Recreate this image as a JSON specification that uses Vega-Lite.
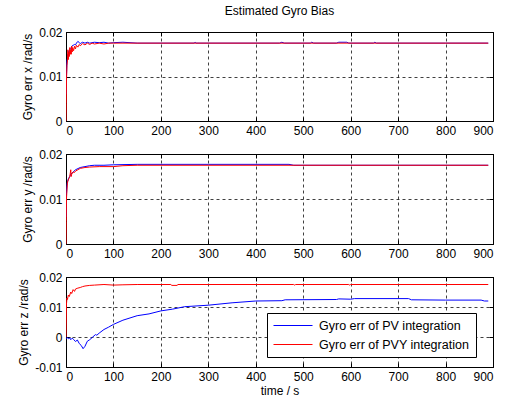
{
  "$schema": "https://vega.github.io/schema/vega-lite/v6.json",
  "padding": {"left": 17, "top": 4, "right": 10, "bottom": 4},
  "spacing": 10,
  "background": "white",
  "config": {
    "font": "Liberation Sans",
    "view": {"stroke": "black", "strokeWidth": 1},
    "axis": {
      "domain": false,
      "tickColor": "black",
      "labelColor": "black",
      "titleColor": "black",
      "labelFont": "Liberation Sans",
      "titleFont": "Liberation Sans",
      "labelFontSize": 12,
      "titleFontSize": 12,
      "titleFontWeight": "normal",
      "gridColor": "black",
      "gridDash": [3, 3],
      "gridOpacity": 0.75,
      "tickSize": -4,
      "labelPadding": 8
    },
    "line": {"strokeWidth": 1}
  },
  "resolve": {"legend": {"color": "independent"}},
  "datasets": {
    "px": [
      {"t": 0.5, "v": 0.006, "s": "Gyro err of PV integration"},
      {"t": 1, "v": 0.010, "s": "Gyro err of PV integration"},
      {"t": 2, "v": 0.0135, "s": "Gyro err of PV integration"},
      {"t": 3, "v": 0.014, "s": "Gyro err of PV integration"},
      {"t": 4, "v": 0.015, "s": "Gyro err of PV integration"},
      {"t": 5, "v": 0.0145, "s": "Gyro err of PV integration"},
      {"t": 6, "v": 0.0158, "s": "Gyro err of PV integration"},
      {"t": 8, "v": 0.016, "s": "Gyro err of PV integration"},
      {"t": 10, "v": 0.0162, "s": "Gyro err of PV integration"},
      {"t": 12, "v": 0.0168, "s": "Gyro err of PV integration"},
      {"t": 15, "v": 0.017, "s": "Gyro err of PV integration"},
      {"t": 18, "v": 0.0172, "s": "Gyro err of PV integration"},
      {"t": 20, "v": 0.0171, "s": "Gyro err of PV integration"},
      {"t": 22, "v": 0.0175, "s": "Gyro err of PV integration"},
      {"t": 25, "v": 0.0179, "s": "Gyro err of PV integration"},
      {"t": 28, "v": 0.0176, "s": "Gyro err of PV integration"},
      {"t": 30, "v": 0.0174, "s": "Gyro err of PV integration"},
      {"t": 35, "v": 0.0177, "s": "Gyro err of PV integration"},
      {"t": 40, "v": 0.0175, "s": "Gyro err of PV integration"},
      {"t": 45, "v": 0.0177, "s": "Gyro err of PV integration"},
      {"t": 50, "v": 0.0175, "s": "Gyro err of PV integration"},
      {"t": 60, "v": 0.0177, "s": "Gyro err of PV integration"},
      {"t": 70, "v": 0.0176, "s": "Gyro err of PV integration"},
      {"t": 80, "v": 0.0177, "s": "Gyro err of PV integration"},
      {"t": 90, "v": 0.0175, "s": "Gyro err of PV integration"},
      {"t": 100, "v": 0.0176, "s": "Gyro err of PV integration"},
      {"t": 120, "v": 0.0177, "s": "Gyro err of PV integration"},
      {"t": 150, "v": 0.0175, "s": "Gyro err of PV integration"},
      {"t": 270, "v": 0.0175, "s": "Gyro err of PV integration"},
      {"t": 272, "v": 0.0177, "s": "Gyro err of PV integration"},
      {"t": 274, "v": 0.0175, "s": "Gyro err of PV integration"},
      {"t": 450, "v": 0.0175, "s": "Gyro err of PV integration"},
      {"t": 455, "v": 0.0177, "s": "Gyro err of PV integration"},
      {"t": 460, "v": 0.0175, "s": "Gyro err of PV integration"},
      {"t": 515, "v": 0.0175, "s": "Gyro err of PV integration"},
      {"t": 518, "v": 0.0177, "s": "Gyro err of PV integration"},
      {"t": 522, "v": 0.0175, "s": "Gyro err of PV integration"},
      {"t": 570, "v": 0.0175, "s": "Gyro err of PV integration"},
      {"t": 575, "v": 0.0177, "s": "Gyro err of PV integration"},
      {"t": 592, "v": 0.0177, "s": "Gyro err of PV integration"},
      {"t": 596, "v": 0.0175, "s": "Gyro err of PV integration"},
      {"t": 648, "v": 0.0175, "s": "Gyro err of PV integration"},
      {"t": 651, "v": 0.0177, "s": "Gyro err of PV integration"},
      {"t": 654, "v": 0.0175, "s": "Gyro err of PV integration"},
      {"t": 800, "v": 0.0175, "s": "Gyro err of PV integration"},
      {"t": 890, "v": 0.0175, "s": "Gyro err of PV integration"},
      {"t": 0, "v": 0, "s": "Gyro err of PVY integration"},
      {"t": 0.5, "v": 0.004, "s": "Gyro err of PVY integration"},
      {"t": 1, "v": 0.009, "s": "Gyro err of PVY integration"},
      {"t": 2, "v": 0.0125, "s": "Gyro err of PVY integration"},
      {"t": 3, "v": 0.0135, "s": "Gyro err of PVY integration"},
      {"t": 4, "v": 0.016, "s": "Gyro err of PVY integration"},
      {"t": 5, "v": 0.0138, "s": "Gyro err of PVY integration"},
      {"t": 6, "v": 0.0155, "s": "Gyro err of PVY integration"},
      {"t": 7, "v": 0.0145, "s": "Gyro err of PVY integration"},
      {"t": 8, "v": 0.0165, "s": "Gyro err of PVY integration"},
      {"t": 9, "v": 0.015, "s": "Gyro err of PVY integration"},
      {"t": 10, "v": 0.016, "s": "Gyro err of PVY integration"},
      {"t": 11, "v": 0.015, "s": "Gyro err of PVY integration"},
      {"t": 12, "v": 0.0168, "s": "Gyro err of PVY integration"},
      {"t": 13, "v": 0.0155, "s": "Gyro err of PVY integration"},
      {"t": 14, "v": 0.0165, "s": "Gyro err of PVY integration"},
      {"t": 16, "v": 0.0158, "s": "Gyro err of PVY integration"},
      {"t": 18, "v": 0.0168, "s": "Gyro err of PVY integration"},
      {"t": 20, "v": 0.0162, "s": "Gyro err of PVY integration"},
      {"t": 22, "v": 0.017, "s": "Gyro err of PVY integration"},
      {"t": 25, "v": 0.0166, "s": "Gyro err of PVY integration"},
      {"t": 28, "v": 0.0172, "s": "Gyro err of PVY integration"},
      {"t": 30, "v": 0.0169, "s": "Gyro err of PVY integration"},
      {"t": 35, "v": 0.0174, "s": "Gyro err of PVY integration"},
      {"t": 40, "v": 0.0171, "s": "Gyro err of PVY integration"},
      {"t": 45, "v": 0.0175, "s": "Gyro err of PVY integration"},
      {"t": 50, "v": 0.0172, "s": "Gyro err of PVY integration"},
      {"t": 55, "v": 0.0175, "s": "Gyro err of PVY integration"},
      {"t": 60, "v": 0.0173, "s": "Gyro err of PVY integration"},
      {"t": 70, "v": 0.0175, "s": "Gyro err of PVY integration"},
      {"t": 80, "v": 0.0173, "s": "Gyro err of PVY integration"},
      {"t": 90, "v": 0.0175, "s": "Gyro err of PVY integration"},
      {"t": 100, "v": 0.0175, "s": "Gyro err of PVY integration"},
      {"t": 200, "v": 0.0175, "s": "Gyro err of PVY integration"},
      {"t": 890, "v": 0.0175, "s": "Gyro err of PVY integration"}
    ],
    "py": [
      {"t": 0.5, "v": 0.006, "s": "Gyro err of PV integration"},
      {"t": 1, "v": 0.011, "s": "Gyro err of PV integration"},
      {"t": 2, "v": 0.013, "s": "Gyro err of PV integration"},
      {"t": 3, "v": 0.0138, "s": "Gyro err of PV integration"},
      {"t": 5, "v": 0.0145, "s": "Gyro err of PV integration"},
      {"t": 8, "v": 0.015, "s": "Gyro err of PV integration"},
      {"t": 10, "v": 0.0155, "s": "Gyro err of PV integration"},
      {"t": 15, "v": 0.016, "s": "Gyro err of PV integration"},
      {"t": 20, "v": 0.0165, "s": "Gyro err of PV integration"},
      {"t": 30, "v": 0.017, "s": "Gyro err of PV integration"},
      {"t": 40, "v": 0.0172, "s": "Gyro err of PV integration"},
      {"t": 50, "v": 0.0174, "s": "Gyro err of PV integration"},
      {"t": 60, "v": 0.0175, "s": "Gyro err of PV integration"},
      {"t": 80, "v": 0.0175, "s": "Gyro err of PV integration"},
      {"t": 100, "v": 0.0176, "s": "Gyro err of PV integration"},
      {"t": 150, "v": 0.0177, "s": "Gyro err of PV integration"},
      {"t": 300, "v": 0.0177, "s": "Gyro err of PV integration"},
      {"t": 470, "v": 0.0177, "s": "Gyro err of PV integration"},
      {"t": 480, "v": 0.0175, "s": "Gyro err of PV integration"},
      {"t": 890, "v": 0.0175, "s": "Gyro err of PV integration"},
      {"t": 0, "v": 0, "s": "Gyro err of PVY integration"},
      {"t": 0.5, "v": 0.005, "s": "Gyro err of PVY integration"},
      {"t": 1, "v": 0.01, "s": "Gyro err of PVY integration"},
      {"t": 2, "v": 0.012, "s": "Gyro err of PVY integration"},
      {"t": 3, "v": 0.0135, "s": "Gyro err of PVY integration"},
      {"t": 4, "v": 0.014, "s": "Gyro err of PVY integration"},
      {"t": 6, "v": 0.0145, "s": "Gyro err of PVY integration"},
      {"t": 8, "v": 0.015, "s": "Gyro err of PVY integration"},
      {"t": 10, "v": 0.0165, "s": "Gyro err of PVY integration"},
      {"t": 11, "v": 0.015, "s": "Gyro err of PVY integration"},
      {"t": 12, "v": 0.0155, "s": "Gyro err of PVY integration"},
      {"t": 15, "v": 0.016, "s": "Gyro err of PVY integration"},
      {"t": 18, "v": 0.0159, "s": "Gyro err of PVY integration"},
      {"t": 20, "v": 0.0162, "s": "Gyro err of PVY integration"},
      {"t": 25, "v": 0.0165, "s": "Gyro err of PVY integration"},
      {"t": 30, "v": 0.0168, "s": "Gyro err of PVY integration"},
      {"t": 40, "v": 0.017, "s": "Gyro err of PVY integration"},
      {"t": 50, "v": 0.0171, "s": "Gyro err of PVY integration"},
      {"t": 70, "v": 0.0172, "s": "Gyro err of PVY integration"},
      {"t": 100, "v": 0.0172, "s": "Gyro err of PVY integration"},
      {"t": 120, "v": 0.0174, "s": "Gyro err of PVY integration"},
      {"t": 150, "v": 0.0175, "s": "Gyro err of PVY integration"},
      {"t": 890, "v": 0.0175, "s": "Gyro err of PVY integration"}
    ],
    "pz": [
      {"t": 0, "v": -0.0005, "s": "Gyro err of PV integration"},
      {"t": 3, "v": -0.0002, "s": "Gyro err of PV integration"},
      {"t": 5, "v": -0.0006, "s": "Gyro err of PV integration"},
      {"t": 8, "v": -0.0003, "s": "Gyro err of PV integration"},
      {"t": 10, "v": -0.0009, "s": "Gyro err of PV integration"},
      {"t": 13, "v": -0.0004, "s": "Gyro err of PV integration"},
      {"t": 16, "v": -0.0008, "s": "Gyro err of PV integration"},
      {"t": 20, "v": -0.0015, "s": "Gyro err of PV integration"},
      {"t": 24, "v": -0.001, "s": "Gyro err of PV integration"},
      {"t": 28, "v": -0.0022, "s": "Gyro err of PV integration"},
      {"t": 32, "v": -0.0028, "s": "Gyro err of PV integration"},
      {"t": 36, "v": -0.0039, "s": "Gyro err of PV integration"},
      {"t": 40, "v": -0.0031, "s": "Gyro err of PV integration"},
      {"t": 45, "v": -0.0014, "s": "Gyro err of PV integration"},
      {"t": 50, "v": -0.0009, "s": "Gyro err of PV integration"},
      {"t": 55, "v": -0.0002, "s": "Gyro err of PV integration"},
      {"t": 62, "v": 0.0008, "s": "Gyro err of PV integration"},
      {"t": 65, "v": 0.0006, "s": "Gyro err of PV integration"},
      {"t": 70, "v": 0.0013, "s": "Gyro err of PV integration"},
      {"t": 80, "v": 0.0025, "s": "Gyro err of PV integration"},
      {"t": 90, "v": 0.0033, "s": "Gyro err of PV integration"},
      {"t": 100, "v": 0.0042, "s": "Gyro err of PV integration"},
      {"t": 120, "v": 0.0056, "s": "Gyro err of PV integration"},
      {"t": 150, "v": 0.0071, "s": "Gyro err of PV integration"},
      {"t": 175, "v": 0.0077, "s": "Gyro err of PV integration"},
      {"t": 200, "v": 0.0087, "s": "Gyro err of PV integration"},
      {"t": 225, "v": 0.0093, "s": "Gyro err of PV integration"},
      {"t": 250, "v": 0.0101, "s": "Gyro err of PV integration"},
      {"t": 300, "v": 0.0106, "s": "Gyro err of PV integration"},
      {"t": 350, "v": 0.0114, "s": "Gyro err of PV integration"},
      {"t": 400, "v": 0.012, "s": "Gyro err of PV integration"},
      {"t": 455, "v": 0.0121, "s": "Gyro err of PV integration"},
      {"t": 462, "v": 0.0124, "s": "Gyro err of PV integration"},
      {"t": 570, "v": 0.0125, "s": "Gyro err of PV integration"},
      {"t": 575, "v": 0.0127, "s": "Gyro err of PV integration"},
      {"t": 600, "v": 0.0126, "s": "Gyro err of PV integration"},
      {"t": 608, "v": 0.0128, "s": "Gyro err of PV integration"},
      {"t": 722, "v": 0.0128, "s": "Gyro err of PV integration"},
      {"t": 728, "v": 0.0124, "s": "Gyro err of PV integration"},
      {"t": 800, "v": 0.0123, "s": "Gyro err of PV integration"},
      {"t": 875, "v": 0.0123, "s": "Gyro err of PV integration"},
      {"t": 882, "v": 0.012, "s": "Gyro err of PV integration"},
      {"t": 890, "v": 0.012, "s": "Gyro err of PV integration"},
      {"t": 0, "v": 0, "s": "Gyro err of PVY integration"},
      {"t": 0.5, "v": 0.005, "s": "Gyro err of PVY integration"},
      {"t": 1, "v": 0.011, "s": "Gyro err of PVY integration"},
      {"t": 2, "v": 0.013, "s": "Gyro err of PVY integration"},
      {"t": 3, "v": 0.0125, "s": "Gyro err of PVY integration"},
      {"t": 5, "v": 0.014, "s": "Gyro err of PVY integration"},
      {"t": 7, "v": 0.0135, "s": "Gyro err of PVY integration"},
      {"t": 10, "v": 0.015, "s": "Gyro err of PVY integration"},
      {"t": 12, "v": 0.0145, "s": "Gyro err of PVY integration"},
      {"t": 15, "v": 0.0158, "s": "Gyro err of PVY integration"},
      {"t": 18, "v": 0.0152, "s": "Gyro err of PVY integration"},
      {"t": 20, "v": 0.016, "s": "Gyro err of PVY integration"},
      {"t": 25, "v": 0.0163, "s": "Gyro err of PVY integration"},
      {"t": 30, "v": 0.0165, "s": "Gyro err of PVY integration"},
      {"t": 35, "v": 0.0168, "s": "Gyro err of PVY integration"},
      {"t": 40, "v": 0.017, "s": "Gyro err of PVY integration"},
      {"t": 50, "v": 0.0172, "s": "Gyro err of PVY integration"},
      {"t": 60, "v": 0.0173, "s": "Gyro err of PVY integration"},
      {"t": 80, "v": 0.0175, "s": "Gyro err of PVY integration"},
      {"t": 100, "v": 0.0173, "s": "Gyro err of PVY integration"},
      {"t": 120, "v": 0.0174, "s": "Gyro err of PVY integration"},
      {"t": 150, "v": 0.0175, "s": "Gyro err of PVY integration"},
      {"t": 221, "v": 0.0175, "s": "Gyro err of PVY integration"},
      {"t": 223, "v": 0.0172, "s": "Gyro err of PVY integration"},
      {"t": 234, "v": 0.0172, "s": "Gyro err of PVY integration"},
      {"t": 236, "v": 0.0175, "s": "Gyro err of PVY integration"},
      {"t": 480, "v": 0.0175, "s": "Gyro err of PVY integration"},
      {"t": 482, "v": 0.0173, "s": "Gyro err of PVY integration"},
      {"t": 484, "v": 0.0175, "s": "Gyro err of PVY integration"},
      {"t": 596, "v": 0.0175, "s": "Gyro err of PVY integration"},
      {"t": 598, "v": 0.0173, "s": "Gyro err of PVY integration"},
      {"t": 600, "v": 0.0175, "s": "Gyro err of PVY integration"},
      {"t": 890, "v": 0.0175, "s": "Gyro err of PVY integration"}
    ]
  },
  "vconcat": [
    {
      "width": 427, "height": 89,
      "title": {"text": "Estimated Gyro Bias", "frame": "group", "anchor": "middle", "fontSize": 12, "fontWeight": "normal", "font": "Liberation Sans", "color": "black", "offset": 8},
      "data": {"name": "px"},
      "resolve": {"axis": {"x": "independent", "y": "independent"}},
      "layer": [
        {
          "transform": [{"filter": "datum.s == 'Gyro err of PV integration'"}],
          "mark": {"type": "line", "clip": true},
          "encoding": {
            "x": {"field": "t", "type": "quantitative", "scale": {"domain": [0, 900], "nice": false, "zero": false}, "axis": {"values": [0,100,200,300,400,500,600,700,800,900], "title": null, "grid": true}},
            "y": {"field": "v", "type": "quantitative", "scale": {"domain": [0, 0.02], "nice": false}, "axis": {"values": [0, 0.01, 0.02], "labelExpr": "toString(datum.value)", "title": "Gyro err x /rad/s", "grid": true}},
            "color": {"field": "s", "type": "nominal", "scale": {"domain": ["Gyro err of PV integration", "Gyro err of PVY integration"], "range": ["#0000ff", "#ff0000"]}, "legend": null}
          }
        },
        {
          "transform": [{"filter": "datum.s == 'Gyro err of PVY integration'"}],
          "mark": {"type": "line", "clip": true},
          "encoding": {
            "x": {"field": "t", "type": "quantitative", "scale": {"domain": [0, 900], "nice": false, "zero": false}, "axis": {"orient": "top", "values": [0,100,200,300,400,500,600,700,800,900], "labels": false, "title": null, "grid": false}},
            "y": {"field": "v", "type": "quantitative", "scale": {"domain": [0, 0.02], "nice": false}, "axis": {"orient": "right", "values": [0, 0.01, 0.02], "labels": false, "title": null, "grid": false}},
            "color": {"field": "s", "type": "nominal", "legend": null}
          }
        }
      ]
    },
    {
      "width": 427, "height": 90,
      "data": {"name": "py"},
      "resolve": {"axis": {"x": "independent", "y": "independent"}},
      "layer": [
        {
          "transform": [{"filter": "datum.s == 'Gyro err of PV integration'"}],
          "mark": {"type": "line", "clip": true},
          "encoding": {
            "x": {"field": "t", "type": "quantitative", "scale": {"domain": [0, 900], "nice": false, "zero": false}, "axis": {"values": [0,100,200,300,400,500,600,700,800,900], "title": null, "grid": true}},
            "y": {"field": "v", "type": "quantitative", "scale": {"domain": [0, 0.02], "nice": false}, "axis": {"values": [0, 0.01, 0.02], "labelExpr": "toString(datum.value)", "title": "Gyro err y /rad/s", "grid": true}},
            "color": {"field": "s", "type": "nominal", "scale": {"domain": ["Gyro err of PV integration", "Gyro err of PVY integration"], "range": ["#0000ff", "#ff0000"]}, "legend": null}
          }
        },
        {
          "transform": [{"filter": "datum.s == 'Gyro err of PVY integration'"}],
          "mark": {"type": "line", "clip": true},
          "encoding": {
            "x": {"field": "t", "type": "quantitative", "scale": {"domain": [0, 900], "nice": false, "zero": false}, "axis": {"orient": "top", "values": [0,100,200,300,400,500,600,700,800,900], "labels": false, "title": null, "grid": false}},
            "y": {"field": "v", "type": "quantitative", "scale": {"domain": [0, 0.02], "nice": false}, "axis": {"orient": "right", "values": [0, 0.01, 0.02], "labels": false, "title": null, "grid": false}},
            "color": {"field": "s", "type": "nominal", "legend": null}
          }
        }
      ]
    },
    {
      "width": 427, "height": 90,
      "data": {"name": "pz"},
      "resolve": {"axis": {"x": "independent", "y": "independent"}},
      "layer": [
        {
          "transform": [{"filter": "datum.s == 'Gyro err of PV integration'"}],
          "mark": {"type": "line", "clip": true},
          "encoding": {
            "x": {"field": "t", "type": "quantitative", "scale": {"domain": [0, 900], "nice": false, "zero": false}, "axis": {"values": [0,100,200,300,400,500,600,700,800,900], "title": "time / s", "titlePadding": 3, "grid": true}},
            "y": {"field": "v", "type": "quantitative", "scale": {"domain": [-0.01, 0.02], "nice": false}, "axis": {"values": [-0.01, 0, 0.01, 0.02], "labelExpr": "toString(datum.value)", "title": "Gyro err z /rad/s", "grid": true}},
            "color": {"field": "s", "type": "nominal", "scale": {"domain": ["Gyro err of PV integration", "Gyro err of PVY integration"], "range": ["#0000ff", "#ff0000"]},
              "legend": {"orient": "none", "legendX": 201, "legendY": 36, "title": null, "strokeColor": "black", "fillColor": "white", "padding": 6, "symbolType": "M-1,0H5.5", "symbolSize": 144, "symbolStrokeWidth": 1, "symbolFillColor": "transparent", "labelFontSize": 12.5, "labelFont": "Liberation Sans", "labelColor": "black", "labelOffset": 33, "rowPadding": 6, "offset": 0}}
          }
        },
        {
          "transform": [{"filter": "datum.s == 'Gyro err of PVY integration'"}],
          "mark": {"type": "line", "clip": true},
          "encoding": {
            "x": {"field": "t", "type": "quantitative", "scale": {"domain": [0, 900], "nice": false, "zero": false}, "axis": {"orient": "top", "values": [0,100,200,300,400,500,600,700,800,900], "labels": false, "title": null, "grid": false}},
            "y": {"field": "v", "type": "quantitative", "scale": {"domain": [-0.01, 0.02], "nice": false}, "axis": {"orient": "right", "values": [-0.01, 0, 0.01, 0.02], "labels": false, "title": null, "grid": false}},
            "color": {"field": "s", "type": "nominal"}
          }
        }
      ]
    }
  ]
}
